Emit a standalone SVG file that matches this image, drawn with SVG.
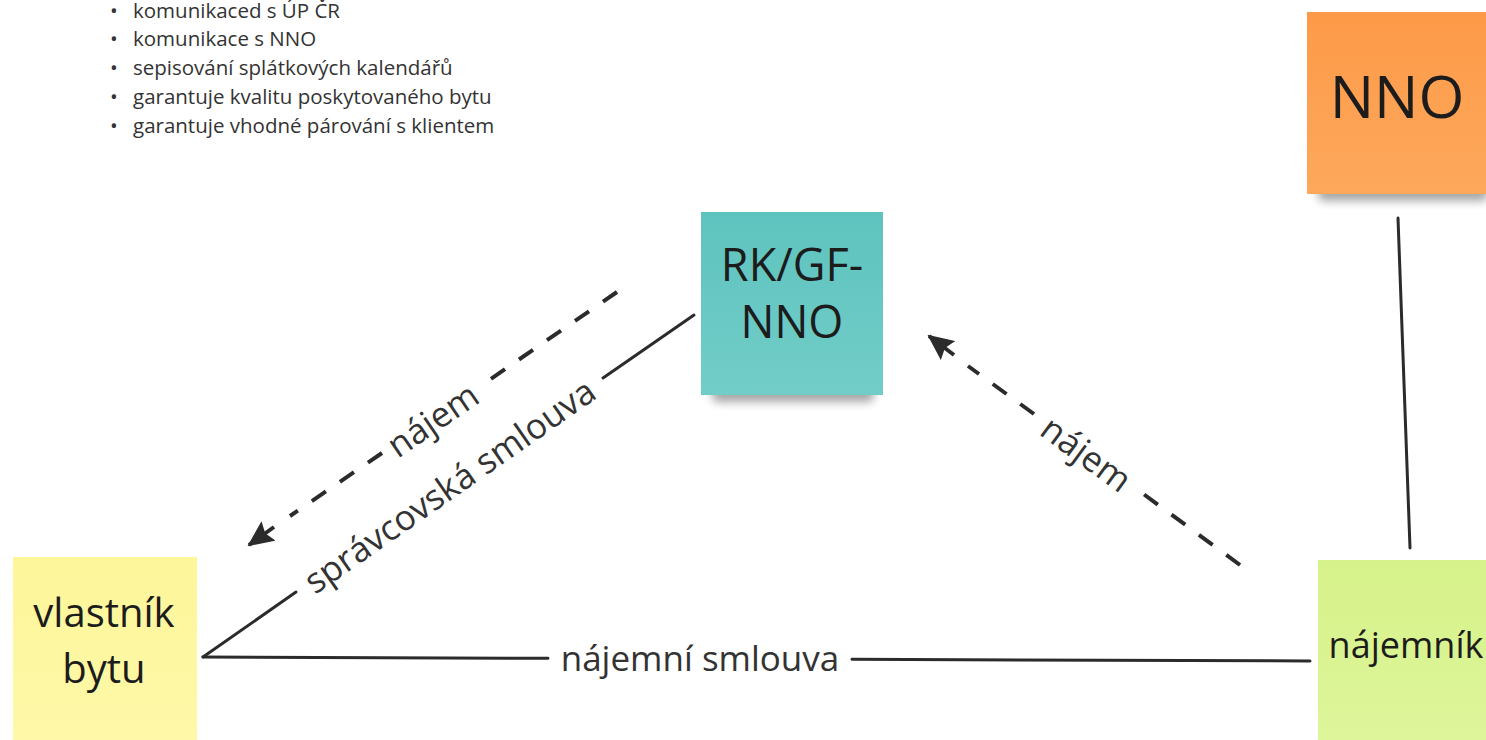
<svg xmlns="http://www.w3.org/2000/svg" width="1486" height="740" viewBox="0 0 1486 740">
  <style>
    .list { font-family: "Open Sans", "Noto Sans", sans-serif; font-size: 20.5px; fill: #333; }
    .note-text { font-family: "Open Sans", "Noto Sans", sans-serif; fill: #1c1c1c; text-anchor: middle; }
    .label { font-family: "Open Sans", "Noto Sans", sans-serif; font-size: 35px; fill: #333; text-anchor: middle; dominant-baseline: central; }
    .solid { stroke: #2b2b2b; stroke-width: 3; fill: none; stroke-linecap: round; }
    .dashed { stroke: #2b2b2b; stroke-width: 4; fill: none; stroke-dasharray: 17 17; }
    .stem { stroke: #2b2b2b; stroke-width: 4; fill: none; }
    .shadow { fill: #000; opacity: 0.35; filter: url(#soft); }
  </style>
  <defs>
    <filter id="soft" x="-20%" y="-50%" width="140%" height="200%">
      <feGaussianBlur stdDeviation="5"/>
    </filter>
    <linearGradient id="teal" x1="0" y1="0" x2="0" y2="1">
      <stop offset="0" stop-color="#5ec3be"/>
      <stop offset="1" stop-color="#72cdc8"/>
    </linearGradient>
    <linearGradient id="orange" x1="0" y1="0" x2="0" y2="1">
      <stop offset="0" stop-color="#fd9a48"/>
      <stop offset="1" stop-color="#fda85c"/>
    </linearGradient>
    <linearGradient id="yellow" x1="0" y1="0" x2="0" y2="1">
      <stop offset="0" stop-color="#fdf69a"/>
      <stop offset="1" stop-color="#fef8a8"/>
    </linearGradient>
    <linearGradient id="green" x1="0" y1="0" x2="0" y2="1">
      <stop offset="0" stop-color="#d6f28a"/>
      <stop offset="1" stop-color="#def59a"/>
    </linearGradient>
    <!-- filled arrowhead, tip at the end of the path -->
    <marker id="arrow" viewBox="0 0 26 24" refX="24" refY="12" markerWidth="26" markerHeight="24" orient="auto" markerUnits="userSpaceOnUse">
      <path d="M26,12 L0,0 L4,12 L0,24 Z" fill="#2b2b2b"/>
    </marker>
  </defs>

  <rect width="1486" height="740" fill="#ffffff"/>

  <!-- bullet list of responsibilities -->
  <g id="responsibilities" class="list">
    <text x="110" y="18">•</text><text x="133" y="18">komunikaced s ÚP ČR</text>
    <text x="110" y="46">•</text><text x="133" y="46">komunikace s NNO</text>
    <text x="110" y="75">•</text><text x="133" y="75">sepisování splátkových kalendářů</text>
    <text x="110" y="104">•</text><text x="133" y="104">garantuje kvalitu poskytovaného bytu</text>
    <text x="110" y="133">•</text><text x="133" y="133">garantuje vhodné párování s klientem</text>
  </g>

  <!-- connectors -->
  <g id="connectors">
    <!-- vlastník ↔ nájemník -->
    <line class="solid" x1="203" y1="657" x2="548" y2="658.3"/>
    <line class="solid" x1="852" y1="659.3" x2="1310" y2="661"/>
    <text class="label" x="700" y="657">nájemní smlouva</text>

    <!-- vlastník ↔ RK/GF-NNO -->
    <line class="solid" x1="203" y1="657" x2="296" y2="592"/>
    <line class="solid" x1="603" y1="378" x2="694" y2="315"/>
    <text class="label" transform="translate(449,485) rotate(-34.9)">správcovská smlouva</text>

    <!-- RK/GF-NNO → vlastník (nájem) -->
    <line class="dashed" x1="617" y1="292" x2="482" y2="385"/>
    <line class="dashed" x1="382" y1="453" x2="290" y2="516"/>
    <line class="stem" x1="274" y1="527" x2="249" y2="545" marker-end="url(#arrow)"/>
    <text class="label" transform="translate(432,419) rotate(-34.5)">nájem</text>

    <!-- nájemník → RK/GF-NNO (nájem) -->
    <line class="dashed" x1="1240" y1="565" x2="1138" y2="490"/>
    <line class="dashed" x1="1034" y1="414" x2="968" y2="366"/>
    <line class="stem" x1="954" y1="355" x2="929" y2="336" marker-end="url(#arrow)"/>
    <text class="label" transform="translate(1087,453) rotate(36.2)">nájem</text>

    <!-- NNO — nájemník -->
    <line class="solid" x1="1398" y1="218" x2="1410" y2="548"/>
  </g>

  <!-- RK/GF-NNO -->
  <g id="rk-gf-nno">
    <rect class="shadow" x="712" y="384" width="162" height="18" rx="6"/>
    <rect x="701" y="212" width="182" height="183" fill="url(#teal)"/>
    <text class="note-text" x="792" y="281" font-size="45">RK/GF-</text>
    <text class="note-text" x="792" y="338" font-size="45">NNO</text>
  </g>

  <!-- NNO -->
  <g id="nno">
    <rect class="shadow" x="1318" y="183" width="170" height="18" rx="6"/>
    <rect x="1307" y="12" width="185" height="182" fill="url(#orange)"/>
    <text class="note-text" x="1397" y="118" font-size="59">NNO</text>
  </g>

  <!-- vlastník bytu -->
  <g id="vlastnik-bytu">
    <rect x="13" y="557" width="184" height="185" fill="url(#yellow)"/>
    <text class="note-text" x="104" y="627" font-size="40">vlastník</text>
    <text class="note-text" x="104" y="683" font-size="40">bytu</text>
  </g>

  <!-- nájemník -->
  <g id="najemnik">
    <rect x="1318" y="560" width="180" height="182" fill="url(#green)"/>
    <text class="note-text" x="1406" y="658" font-size="36">nájemník</text>
  </g>
</svg>
